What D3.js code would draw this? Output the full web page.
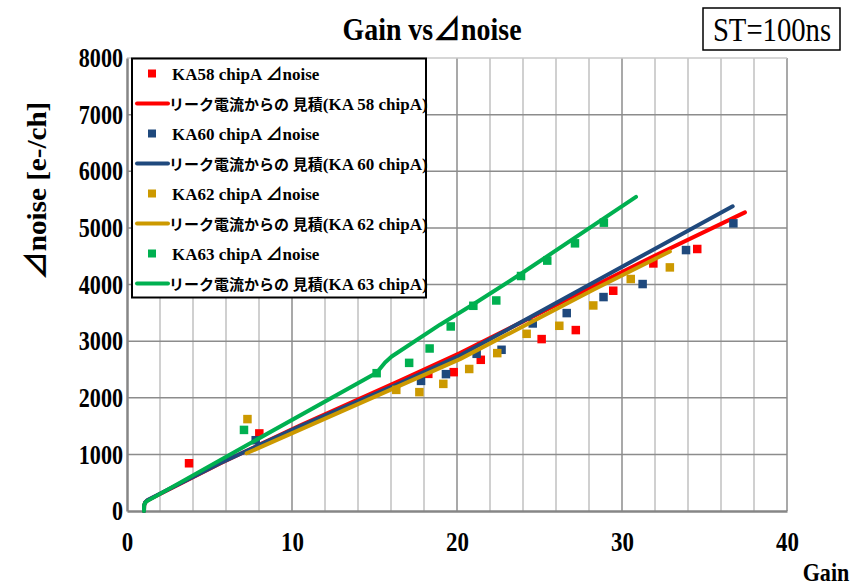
<!DOCTYPE html>
<html>
<head>
<meta charset="utf-8">
<script src="https://cdn.jsdelivr.net/npm/d3@7"></script>
<style>
  html, body { margin: 0; padding: 0; background: #fff; }
  svg { display: block; }
  text { font-family: "Liberation Serif", "Times New Roman", "Noto Sans CJK JP", serif; }
</style>
</head>
<body>
<svg id="chart" width="857" height="586"></svg>
<script>
// Measured noise increase (gain, e-/ch) per chip
const ka58Points = [[3.76, 843], [8.02, 1370], [18.26, 2422], [19.8, 2452], [21.44, 2670], [25.13, 3036], [27.2, 3195], [29.47, 3890], [31.9, 4372], [34.56, 4627]];
const ka60Points = [[7.8, 1250], [17.82, 2298], [19.33, 2417], [21.19, 2776], [22.7, 2847], [24.59, 3312], [26.65, 3495], [28.88, 3778], [31.25, 4008], [33.88, 4608], [36.75, 5080]];
const ka62Points = [[7.3, 1623], [16.32, 2139], [17.72, 2099], [19.17, 2245], [20.74, 2508], [22.44, 2788], [24.22, 3129], [26.2, 3271], [28.26, 3630], [30.53, 4097], [32.9, 4302]];
const ka63Points = [[7.09, 1432], [15.13, 2434], [17.1, 2616], [18.34, 2870], [19.62, 3259], [20.99, 3624], [22.38, 3718], [23.88, 4150], [25.47, 4422], [27.15, 4727], [28.9, 5092]];

// Estimates derived from leakage current
const ka58Line = [[1.03, 0], [1.04, 100], [1.1, 150], [1.25, 190], [5.64, 840], [10.48, 1510], [16.55, 2304], [20.18, 2788], [31.7, 4468], [37.45, 5274]];
const ka60Line = [[1.03, 0], [1.04, 100], [1.1, 152], [1.25, 194], [5.64, 845], [10.48, 1494], [16.55, 2258], [20.18, 2745], [31.7, 4584], [36.71, 5380]];
const ka62Line = [[7.25, 1020], [13, 1760], [20.18, 2682], [28.26, 3907], [32.9, 4584]];
const ka63Line = [[1.03, 0], [1.04, 100], [1.1, 145], [1.19, 170], [6.85, 1096], [15.13, 2440], [15.64, 2622], [16.04, 2728], [18.97, 3290], [20.99, 3650], [23.88, 4190], [30.85, 5546]];

const seriesNames = ["KA58 chipA ⊿noise", "KA60 chipA ⊿noise", "KA62 chipA ⊿noise", "KA63 chipA ⊿noise"];
const lineNamePrefix = "リーク電流からの 見積";
const lineNameSuffix = ["(KA 58 chipA)", "(KA 60 chipA)", "(KA 62 chipA)", "(KA 63 chipA)"];
const seriesColors = ["#ff0000", "#1f497d", "#cc9900", "#00b050"];

const xTicks = [0, 10, 20, 30, 40];
const yTicks = [0, 1000, 2000, 3000, 4000, 5000, 6000, 7000, 8000];

const titleText = "Gain vs⊿noise";
const xTitle = "Gain";
const yTitle = "⊿noise [e-/ch]";
const noteText = "ST=100ns";

const svg = d3.select("#chart");
const x = d3.scaleLinear().domain([0, 40]).range([127, 787]);
const y = d3.scaleLinear().domain([0, 8000]).range([511, 58]);

// narrow serif look: squeeze text horizontally around its anchor
function squeeze(sel, sx) {
  sel.each(function () {
    const t = d3.select(this);
    const x0 = +(t.attr("x") || 0);
    t.attr("x", x0 / sx).attr("transform", `scale(${sx},1)`);
  });
}
function label(px, py, str, size, sx, opts = {}) {
  const g = svg.append("g").attr("transform", `translate(${px},${py})${opts.rotate ? ` rotate(${opts.rotate})` : ""} scale(${sx},1)`);
  return g.append("text").attr("text-anchor", opts.anchor || "middle")
    .attr("font-size", size).attr("font-weight", opts.weight || "bold").text(str);
}

// grid
const grid = svg.append("g");
grid.selectAll("line.v").data(d3.range(2, 41, 2)).join("line")
  .attr("x1", d => x(d)).attr("x2", d => x(d))
  .attr("y1", y(0)).attr("y2", y(8000))
  .attr("stroke", d => d % 10 === 0 ? "#8c8c8c" : "#c0c0c0")
  .attr("stroke-width", 1.5);
grid.selectAll("line.h").data(d3.range(1000, 8001, 1000)).join("line")
  .attr("x1", x(0)).attr("x2", x(40))
  .attr("y1", d => y(d)).attr("y2", d => y(d))
  .attr("stroke", d => d === 8000 ? "#c8c8c8" : "#8c8c8c")
  .attr("stroke-width", 1.5);

// axes
const xAxis = svg.append("g").attr("transform", `translate(0,${y(0)})`)
  .call(d3.axisBottom(x).tickValues(xTicks).tickSize(0).tickPadding(21).tickFormat(d3.format("d")));
xAxis.select(".domain").attr("stroke", "#868686").attr("stroke-width", 2.5);
xAxis.selectAll("text").attr("font-size", 27).attr("font-weight", "bold").attr("fill", "#000").call(squeeze, 0.85);

const yAxis = svg.append("g").attr("transform", `translate(${x(0)},0)`)
  .call(d3.axisLeft(y).tickValues(yTicks).tickSize(0).tickPadding(4).tickFormat(d3.format("d")));
yAxis.select(".domain").attr("stroke", "#868686").attr("stroke-width", 2.5);
yAxis.selectAll("text").attr("font-size", 27).attr("font-weight", "bold").attr("fill", "#000").call(squeeze, 0.82);

// series
const line = d3.line().x(d => x(d[0])).y(d => y(d[1]));
const pointSets = [ka58Points, ka60Points, ka62Points, ka63Points];
const lineSets = [ka58Line, ka60Line, ka62Line, ka63Line];
const plot = svg.append("g");
pointSets.forEach((pts, i) => {
  plot.append("g").selectAll("rect").data(pts).join("rect")
    .attr("x", d => x(d[0]) - 4.25).attr("y", d => y(d[1]) - 4.25)
    .attr("width", 8.5).attr("height", 8.5)
    .attr("fill", seriesColors[i]);
  plot.append("path").datum(lineSets[i])
    .attr("d", line)
    .attr("fill", "none")
    .attr("stroke", seriesColors[i])
    .attr("stroke-width", 4)
    .attr("stroke-linecap", "round")
    .attr("stroke-linejoin", "round");
});

// legend
const legend = svg.append("g");
legend.append("rect").attr("x", 132).attr("y", 58.5).attr("width", 294).attr("height", 239)
  .attr("fill", "#fff").attr("stroke", "#000").attr("stroke-width", 2);
seriesColors.forEach((c, i) => {
  const y0 = 74 + i * 60;
  legend.append("rect").attr("x", 148).attr("y", y0 - 4.5).attr("width", 8).attr("height", 8).attr("fill", c);
  legend.append("text").attr("x", 172).attr("y", y0 + 6).attr("font-size", 17).attr("font-weight", "bold")
    .text(seriesNames[i]);
  const y1 = y0 + 29.5;
  legend.append("line").attr("x1", 137).attr("x2", 168).attr("y1", y1).attr("y2", y1)
    .attr("stroke", c).attr("stroke-width", 4).attr("stroke-linecap", "round");
  const t = legend.append("text").attr("x", 169).attr("y", y1 + 6).attr("font-weight", "bold");
  t.append("tspan").attr("font-size", 15).text(lineNamePrefix);
  t.append("tspan").attr("font-size", 17).text(lineNameSuffix[i]);
});

// titles
label(432, 40, titleText, 31, 0.9);
svg.append("rect").attr("x", 703).attr("y", 8).attr("width", 137).attr("height", 42)
  .attr("fill", "#fff").attr("stroke", "#000").attr("stroke-width", 1.5);
label(772, 41, noteText, 33, 0.87, { weight: "normal" });
label(826, 581, xTitle, 26, 0.85);
label(46, 191, yTitle, 28, 1.04, { rotate: -90 });
</script>
</body>
</html>
